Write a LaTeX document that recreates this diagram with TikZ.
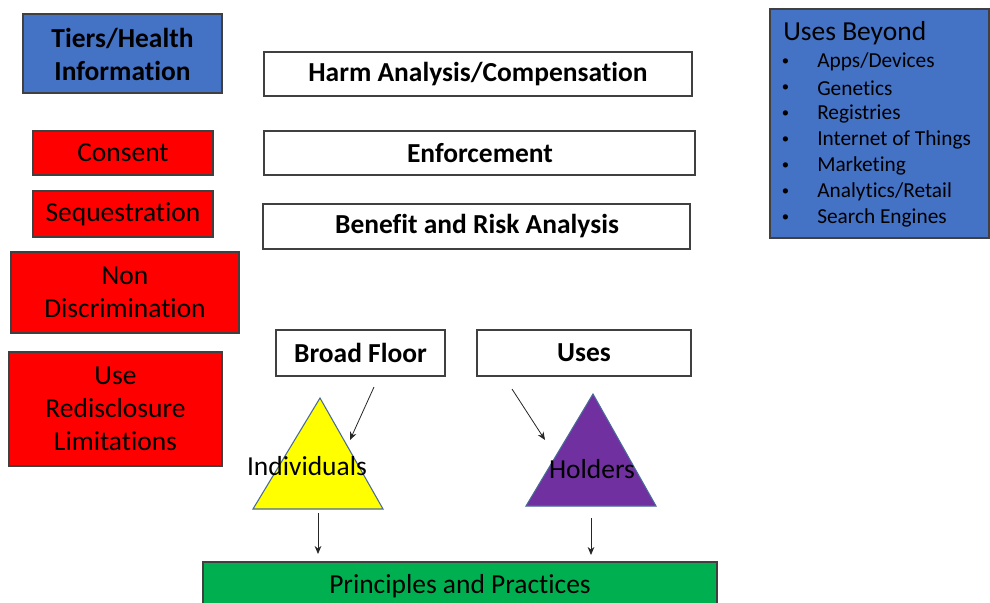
\documentclass[tikz,border=0pt]{standalone}
\usepackage{fontspec}
\setmainfont{Carlito}[Ligatures=NoCommon]
\usetikzlibrary{fit,arrows.meta}
\definecolor{tierblue}{HTML}{4472C4}
\definecolor{limitred}{HTML}{FF0000}
\definecolor{indyellow}{HTML}{FFFF00}
\definecolor{holdpurple}{HTML}{7030A0}
\definecolor{basegreen}{HTML}{00B050}
\definecolor{edgegray}{HTML}{404040}
\definecolor{trioutline}{HTML}{4A6A9A}
\begin{document}
\begin{tikzpicture}[x=0.75pt,y=-0.75pt,
  box/.style={draw=edgegray, line width=0.8pt, inner sep=0pt, align=center,
    font=\fontsize{20.6}{24.75}\selectfont},
  boldbox/.style={box, font=\fontsize{20.6}{24.75}\selectfont\bfseries},
  listitem/.style={anchor=west, inner sep=0pt, font=\fontsize{16}{19}\selectfont},
  bulletmark/.style={inner sep=0pt, font=\fontsize{11}{13}\selectfont},
  tri/.style={draw=trioutline, line width=0.8pt},
  trilabel/.style={inner sep=0pt, font=\fontsize{20.6}{24.75}\selectfont},
  link/.style={draw=black!85, line width=0.6pt, -{Stealth[length=6pt,width=5pt]}}]
\clip (0,0) rectangle (990,603);
\fill[white] (0,0) rectangle (990,603);

% left column
\node[boldbox, fill=tierblue, fit={(23,14) (222,93)}] (tiers) {};
\node[inner sep=0pt, align=center, font=\fontsize{20.6}{24.75}\selectfont\bfseries] (tierstext) at (122.5,54) {Tiers/Health\\Information};
\node[box, fill=limitred, fit={(33,131) (213,175)}] (consent) {};
\node[inner sep=0pt, font=\fontsize{20.6}{24.75}\selectfont] (consenttext) at (123,153) {Consent};
\node[box, fill=limitred, fit={(33,191) (213,237)}] (seq) {};
\node[inner sep=0pt, font=\fontsize{20.6}{24.75}\selectfont] (seqtext) at (123,214) {Sequestration};
\node[box, fill=limitred, fit={(11,252) (239,333)}] (nondisc) {};
\node[inner sep=0pt, align=center, font=\fontsize{20.6}{24.75}\selectfont] (nondisctext) at (125,292) {Non\\Discrimination};
\node[box, fill=limitred, fit={(9,352) (222,466)}] (redisc) {};
\node[inner sep=0pt, align=center, font=\fontsize{20.6}{24.75}\selectfont] (redisctext) at (115.5,409) {Use\\Redisclosure\\Limitations};

% centre column
\node[box, fit={(264,52) (692,96)}] (harm) {};
\node[inner sep=0pt, font=\fontsize{20.6}{24.75}\selectfont\bfseries] (harmtext) at (478,74) {Harm Analysis/Compensation};
\node[box, fit={(264,131) (695,175)}] (enf) {};
\node[inner sep=0pt, font=\fontsize{20.6}{24.75}\selectfont\bfseries] (enftext) at (480,153) {Enforcement};
\node[box, fit={(263,204) (690,249)}] (benefit) {};
\node[inner sep=0pt, font=\fontsize{20.6}{24.75}\selectfont\bfseries] (benefittext) at (477,226.5) {Benefit and Risk Analysis};
\node[box, fit={(276,330) (445,376)}] (floor) {};
\node[inner sep=0pt, font=\fontsize{20.6}{24.75}\selectfont\bfseries] (floortext) at (360.5,353) {Broad Floor};
\node[box, fit={(477,330) (691,376)}] (uses) {};
\node[inner sep=0pt, font=\fontsize{20.6}{24.75}\selectfont\bfseries] (usestext) at (584,353) {Uses};

% right panel
\node[box, fill=tierblue, fit={(770,9) (989,238)}] (beyond) {};
\node[anchor=west, inner sep=0pt, font=\fontsize{20.6}{24.75}\selectfont] (beyondtitle) at (783,33) {Uses Beyond};
\foreach \item [count=\k from 0] in {Apps/Devices, Genetics, Registries, Internet of Things, Marketing, Analytics/Retail, Search Engines}{
  \node[bulletmark] (bul\k) at (785.5,62+26*\k) {\textbullet};
  \node[listitem] (item\k) at (817,62+26*\k) {\item};
}

% triangles
\filldraw[tri, fill=indyellow] (320,398) -- (383,509) -- (253,509) -- cycle;
\node[trilabel] (indiv) at (307,466) {Individuals};
\filldraw[tri, fill=holdpurple] (593,394) -- (656,506) -- (526,506) -- cycle;
\node[trilabel] (holders) at (592,469) {Holders};

% base bar
\node[box, fill=basegreen, fit={(203,562) (717,612)}] (principles) {};
\node[inner sep=0pt, font=\fontsize{20.6}{24.75}\selectfont] (principlestext) at (460,586) {Principles and Practices};

% connectors
\coordinate (floorout) at (374,387);
\coordinate (indivin) at (350,440);
\coordinate (usesout) at (512,389);
\coordinate (holdersin) at (545,440);
\coordinate (indivout) at (318,513);
\coordinate (basein1) at (318,554);
\coordinate (holdersout) at (591,518);
\coordinate (basein2) at (591,555);
\draw[link] (floorout) -- (indivin);
\draw[link] (usesout) -- (holdersin);
\draw[link] (indivout) -- (basein1);
\draw[link] (holdersout) -- (basein2);
\end{tikzpicture}
\end{document}
